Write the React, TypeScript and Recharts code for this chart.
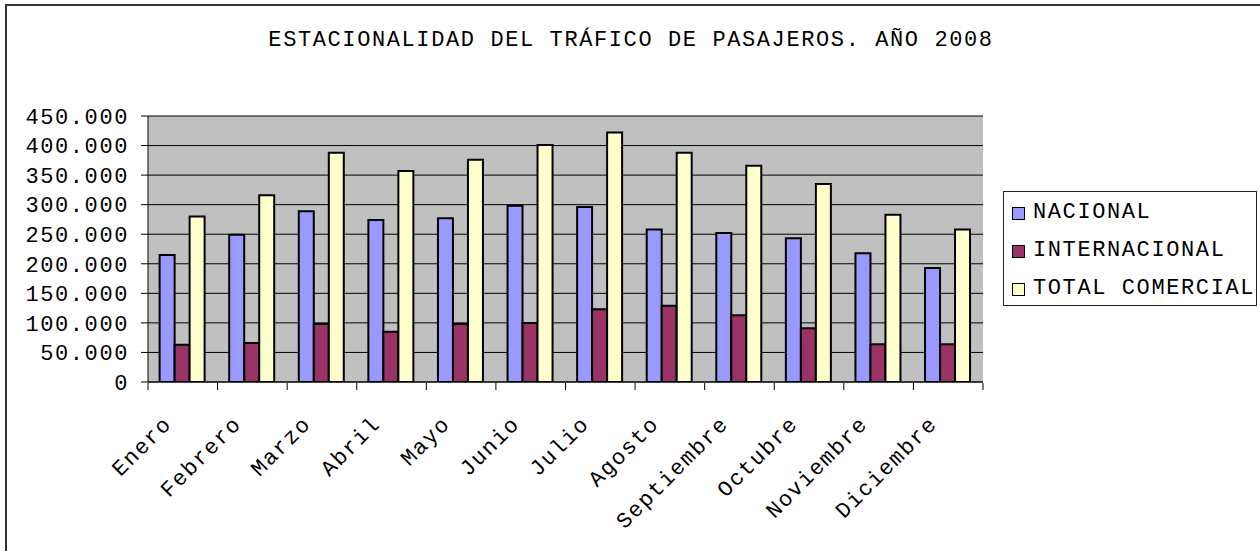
import { Bar, BarChart, CartesianGrid, Legend, XAxis, YAxis } from "recharts";

const months = [
  "Enero", "Febrero", "Marzo", "Abril", "Mayo", "Junio",
  "Julio", "Agosto", "Septiembre", "Octubre", "Noviembre", "Diciembre",
];
const nacional = [215000, 249000, 289000, 274000, 277000, 298000, 296000, 258000, 252000, 243000, 218000, 193000];
const internacional = [63000, 66000, 98000, 85000, 98000, 100000, 123000, 129000, 113000, 91000, 64000, 64000];
const totalComercial = [280000, 316000, 388000, 357000, 376000, 401000, 422000, 388000, 366000, 335000, 283000, 258000];
const yTicks = [0, 50000, 100000, 150000, 200000, 250000, 300000, 350000, 400000, 450000];
const boundaryTicks = [0, 1, 2, 3, 4, 5, 6, 7, 8, 9, 10, 11, 12];

const series = [
  { key: "nacional", name: "NACIONAL", color: "#9999FF" },
  { key: "internacional", name: "INTERNACIONAL", color: "#993366" },
  { key: "total", name: "TOTAL COMERCIAL", color: "#FFFFCC" },
];

const data = months.map((m, i) => ({
  mes: m,
  pos: i + 0.5,
  nacional: nacional[i],
  internacional: internacional[i],
  total: totalComercial[i],
}));

const FONT = "'Liberation Mono', 'Courier New', monospace";
const FS = 22;
const LS = 1.6;

const fmt = (v: number) => String(v).replace(/\B(?=(\d{3})+(?!\d))/g, ".");

function MonthTick(props: any) {
  const { x, payload } = props;
  return (
    <g transform={`translate(${x - 10},${425}) rotate(-45)`}>
      <text
        x={0}
        y={0}
        textAnchor="end"
        fill="#000"
        style={{ fontFamily: FONT, fontSize: FS, letterSpacing: LS }}
      >
        {payload.value}
      </text>
    </g>
  );
}

function NoLabel() {
  return <g />;
}

function LegendBox() {
  return (
    <div
      style={{
        width: 254,
        height: 115,
        boxSizing: "border-box",
        border: "1px solid #222",
        background: "#fff",
        paddingLeft: 8,
        whiteSpace: "nowrap",
      }}
    >
      {series.map((s, i) => (
        <div
          key={s.key}
          style={{ display: "flex", alignItems: "center", height: 38, marginTop: i === 0 ? 2 : 0 }}
        >
          <span
            style={{
              display: "inline-block",
              flex: "none",
              width: 11,
              height: 11,
              background: s.color,
              border: "1px solid #000",
              marginRight: 8,
            }}
          />
          <span style={{ fontFamily: FONT, fontSize: FS, letterSpacing: LS, color: "#000", lineHeight: "22px" }}>
            {s.name}
          </span>
        </div>
      ))}
    </div>
  );
}

export default function App() {
  return (
    <div style={{ position: "relative", width: 1260, height: 551, overflow: "hidden", background: "#fff" }}>
      <style>{`body{margin:0;overflow:hidden}`}</style>
      <div
        style={{
          position: "absolute",
          left: 5,
          top: 4,
          width: 1400,
          height: 700,
          border: "2px solid #333",
        }}
      />
      <div
        style={{
          position: "absolute",
          left: 0,
          top: 30,
          width: 1262,
          textAlign: "center",
          fontFamily: FONT,
          fontSize: FS,
          letterSpacing: LS,
          lineHeight: "22px",
          color: "#000",
        }}
      >
        ESTACIONALIDAD DEL TRÁFICO DE PASAJEROS. AÑO 2008
      </div>
      <div style={{ position: "absolute", left: 0, top: 0 }}>
        <BarChart
          width={1260}
          height={551}
          data={data}
          margin={{ top: 116, right: 277, bottom: 167, left: 0 }}
          barCategoryGap="16.7%"
          barGap={0}
        >
          <CartesianGrid vertical={false} stroke="#000" fill="#C0C0C0" fillOpacity={1} />
          <XAxis
            dataKey="mes"
            interval={0}
            height={1}
            tickSize={0}
            tickLine={false}
            axisLine={{ stroke: "#000" }}
            tick={<MonthTick />}
          />
          <XAxis
            xAxisId="bounds"
            dataKey="pos"
            type="number"
            domain={[0, 12]}
            ticks={boundaryTicks}
            interval={0}
            allowDataOverflow
            height={1}
            tick={<NoLabel />}
            axisLine={false}
            tickLine={{ stroke: "#000" }}
            tickSize={7}
          />
          <XAxis
            xAxisId="top"
            orientation="top"
            type="number"
            domain={[0, 1]}
            allowDataOverflow
            height={0}
            tick={false}
            tickLine={false}
            axisLine={{ stroke: "#808080" }}
          />
          <YAxis
            width={148}
            domain={[0, 450000]}
            ticks={yTicks}
            interval={0}
            allowDataOverflow
            tickFormatter={fmt}
            tickSize={7}
            tickMargin={12}
            axisLine={{ stroke: "#000" }}
            tickLine={{ stroke: "#000" }}
            tick={{ fill: "#000", fontFamily: FONT, fontSize: FS, letterSpacing: LS }}
          />
          <YAxis
            yAxisId="right"
            orientation="right"
            width={0}
            domain={[0, 1]}
            tick={false}
            tickLine={false}
            axisLine={{ stroke: "#808080" }}
          />
          {series.map((s) => (
            <Bar
              key={s.key}
              dataKey={s.key}
              name={s.name}
              fill={s.color}
              stroke="#000"
              strokeWidth={2}
              isAnimationActive={false}
            />
          ))}
          <Legend
            layout="vertical"
            align="center"
            verticalAlign="middle"
            content={<LegendBox />}
            wrapperStyle={{ left: 1003, top: 191, width: 254 }}
          />
        </BarChart>
      </div>
    </div>
  );
}
